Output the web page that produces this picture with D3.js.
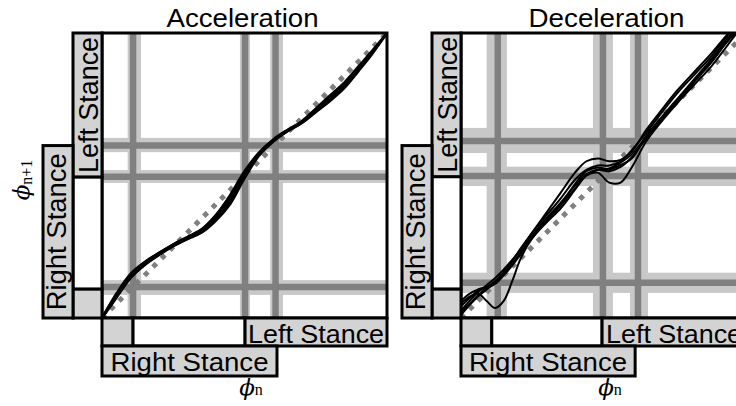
<!DOCTYPE html>
<html><head><meta charset="utf-8">
<script src="https://cdn.jsdelivr.net/npm/d3@7"></script>
<style>html,body{margin:0;padding:0;background:#fff;overflow:hidden}</style>
</head><body>
<svg id="chart" width="736" height="406"></svg>
<script>
// ---------- data ----------
const panelTitles = ["Acceleration", "Deceleration"];
const stanceNames = ["Right Stance", "Left Stance"];
const phiSymbol = "\u03D5";
const xAxisSub = "n";
const yAxisSub = "n+1";

// Acceleration panel: phase map phi_n -> phi_n+1
const accelPhase = [0,0.05,0.1,0.15,0.2,0.25,0.3,0.35,0.4,0.45,0.5,0.55,0.6,0.65,0.7,0.75,0.8,0.85,0.9,0.95,1];
const accelTrial1 = [0,0.078,0.148,0.192,0.226,0.256,0.281,0.306,0.352,0.415,0.502,0.574,0.622,0.657,0.686,0.728,0.770,0.816,0.875,0.935,1];
const accelTrial2 = [0,0.085,0.155,0.197,0.229,0.258,0.283,0.310,0.360,0.428,0.510,0.578,0.624,0.658,0.688,0.732,0.776,0.822,0.880,0.938,1];
const accelTrial3 = [0,0.072,0.142,0.187,0.222,0.253,0.278,0.302,0.345,0.405,0.495,0.570,0.619,0.655,0.684,0.724,0.764,0.810,0.870,0.932,1];
const accelTrial4 = [0,0.080,0.150,0.194,0.228,0.259,0.285,0.312,0.362,0.432,0.515,0.580,0.626,0.660,0.690,0.735,0.781,0.826,0.883,0.940,1];
const accelTrial5 = [0,0.070,0.140,0.186,0.221,0.252,0.277,0.300,0.342,0.400,0.490,0.568,0.618,0.654,0.683,0.722,0.761,0.806,0.866,0.929,1];
// gait events (mean) and their spread, along phi_n (x) and phi_n+1 (y)
const accelEventX = [0.109, 0.502, 0.609];
const accelEventY = [0.109, 0.496, 0.605];
const accelBandX = [[0.090,0.137],[0.484,0.519],[0.590,0.635]];
const accelBandY = [[0.081,0.133],[0.474,0.519],[0.582,0.632]];
// stance boundaries: [left stance ends, left stance starts, right stance ends]
const accelStanceX = [0.109, 0.502, 0.614];
const accelStanceY = [0.102, 0.495, 0.605];

// Deceleration panel
const decelPhase = [0,0.03,0.06,0.09,0.12,0.15,0.18,0.21,0.25,0.3,0.35,0.4,0.44,0.48,0.52,0.56,0.6,0.65,0.7,0.76,0.82,0.88,0.93,0.96,1];
const decelTrial1 = [0.04,0.07,0.095,0.105,0.12,0.15,0.185,0.225,0.285,0.345,0.40,0.47,0.515,0.528,0.522,0.537,0.56,0.64,0.70,0.77,0.84,0.91,0.975,1.01,1.06];
const decelTrial2 = [0.05,0.075,0.085,0.06,0.035,0.06,0.13,0.21,0.28,0.335,0.385,0.45,0.50,0.52,0.525,0.545,0.575,0.635,0.69,0.76,0.83,0.90,0.965,1.0,1.05];
const decelTrial3 = [0.02,0.05,0.08,0.105,0.13,0.16,0.20,0.24,0.30,0.37,0.44,0.51,0.55,0.56,0.55,0.555,0.585,0.66,0.725,0.80,0.865,0.93,0.99,1.02,1.07];
const decelTrial4 = [0.01,0.045,0.075,0.10,0.125,0.155,0.19,0.23,0.28,0.34,0.395,0.455,0.50,0.51,0.475,0.475,0.53,0.62,0.685,0.755,0.82,0.885,0.95,0.99,1.04];
const decelTrial5 = [0.06,0.085,0.10,0.11,0.125,0.16,0.20,0.245,0.30,0.36,0.42,0.485,0.52,0.535,0.535,0.55,0.59,0.65,0.715,0.79,0.855,0.92,0.985,1.02,1.07];
const decelTrial6 = [0.025,0.06,0.09,0.115,0.14,0.17,0.205,0.24,0.29,0.35,0.405,0.465,0.505,0.52,0.515,0.53,0.565,0.63,0.69,0.765,0.835,0.90,0.965,1.0,1.05];
const decelEventX = [0.129, 0.498, 0.621];
const decelEventY = [0.124, 0.498, 0.621];
const decelBandX = [[0.090,0.161],[0.463,0.533],[0.593,0.656]];
const decelBandY = [[0.088,0.159],[0.463,0.531],[0.579,0.667]];
const decelStanceX = [0.108, 0.495, 0.611];
const decelStanceY = [0.102, 0.496, 0.605];

// ---------- drawing ----------
const svg = d3.select("#chart");
const SIZE = 285, TOP = 33, BOT = TOP + SIZE;
const C = {dark:"#808080", band:"#c8c8c8", bar:"#d3d3d3", ink:"#000"};
const sans = "'Liberation Sans', Arial, Helvetica, sans-serif";
const serif = "'Liberation Serif', 'DejaVu Serif', 'Times New Roman', serif";
const phiFont = "'DejaVu Serif', 'Liberation Serif', serif";

const panels = [
  {title: panelTitles[0], x0: 102, phase: accelPhase,
   trials: [accelTrial1, accelTrial2, accelTrial3, accelTrial4, accelTrial5], lw: 2.4,
   evX: accelEventX, evY: accelEventY, bX: accelBandX, bY: accelBandY, sX: accelStanceX, sY: accelStanceY, ylabel: true},
  {title: panelTitles[1], x0: 461, phase: decelPhase,
   trials: [decelTrial1, decelTrial2, decelTrial3, decelTrial4, decelTrial5, decelTrial6], lw: 2,
   evX: decelEventX, evY: decelEventY, bX: decelBandX, bY: decelBandY, sX: decelStanceX, sY: decelStanceY, ylabel: false}
];

panels.forEach((p, i) => {
  const x = d3.scaleLinear().domain([0, 1]).range([p.x0, p.x0 + SIZE]);
  const y = d3.scaleLinear().domain([0, 1]).range([BOT, TOP]);
  const g = svg.append("g");
  const clipId = "clip" + i;
  g.append("clipPath").attr("id", clipId).append("rect")
    .attr("x", x(0)).attr("y", y(1)).attr("width", x(1) - x(0)).attr("height", y(0) - y(1));
  const plot = g.append("g").attr("clip-path", `url(#${clipId})`);

  // light bands
  p.bX.forEach(b => plot.append("rect").attr("x", x(b[0])).attr("y", y(1))
    .attr("width", x(b[1]) - x(b[0])).attr("height", y(0) - y(1)).attr("fill", C.band));
  p.bY.forEach(b => plot.append("rect").attr("x", x(0)).attr("y", y(b[1]))
    .attr("width", x(1) - x(0)).attr("height", y(b[0]) - y(b[1])).attr("fill", C.band));
  // dark event lines
  p.evX.forEach(e => plot.append("line").attr("x1", x(e)).attr("x2", x(e)).attr("y1", y(0)).attr("y2", y(1))
    .attr("stroke", C.dark).attr("stroke-width", 6.5));
  p.evY.forEach(e => plot.append("line").attr("y1", y(e)).attr("y2", y(e)).attr("x1", x(0)).attr("x2", x(1))
    .attr("stroke", C.dark).attr("stroke-width", 6.5));
  // identity diagonal
  plot.append("line").attr("x1", x(0)).attr("y1", y(0)).attr("x2", x(1)).attr("y2", y(1))
    .attr("stroke", C.dark).attr("stroke-width", 5).attr("stroke-dasharray", "5 7");
  // trials
  const line = d3.line().x(d => x(d[0])).y(d => y(d[1])).curve(d3.curveCatmullRom.alpha(0.5));
  p.trials.forEach(t => plot.append("path").attr("d", line(p.phase.map((v, k) => [v, t[k]])))
    .attr("fill", "none").attr("stroke", C.ink).attr("stroke-width", p.lw).attr("stroke-linejoin", "round"));
  // frame
  g.append("rect").attr("x", x(0)).attr("y", y(1)).attr("width", x(1) - x(0)).attr("height", y(0) - y(1))
    .attr("fill", "none").attr("stroke", C.ink).attr("stroke-width", 3);

  // stance bars along phi_n (bottom)
  const r1 = [BOT, BOT + 28], r2 = [BOT + 28, BOT + 58];
  const cell = (x1, x2, y1, y2, fill) => g.append("rect").attr("x", x1).attr("y", y1)
    .attr("width", x2 - x1).attr("height", y2 - y1).attr("fill", fill)
    .attr("stroke", C.ink).attr("stroke-width", 3);
  cell(x(0), x(p.sX[0]), r1[0], r1[1], C.bar);
  cell(x(p.sX[0]), x(p.sX[1]), r1[0], r1[1], "#fff");
  cell(x(p.sX[1]), x(1), r1[0], r1[1], C.bar);
  cell(x(0), x(p.sX[2]), r2[0], r2[1], C.bar);
  g.append("text").attr("x", x((p.sX[1] + 1) / 2)).attr("y", r1[0] + 25).attr("text-anchor", "middle")
    .attr("font-family", sans).attr("font-size", 26).attr("textLength", 136).attr("lengthAdjust", "spacingAndGlyphs")
    .text(stanceNames[1]);
  g.append("text").attr("x", x(p.sX[2] / 2)).attr("y", r2[0] + 25).attr("text-anchor", "middle")
    .attr("font-family", sans).attr("font-size", 25).attr("textLength", 158).attr("lengthAdjust", "spacingAndGlyphs")
    .text(stanceNames[0]);

  // stance bars along phi_n+1 (left)
  const c1 = [p.x0 - 29, p.x0], c2 = [p.x0 - 59, p.x0 - 29];
  cell(c1[0], c1[1], y(p.sY[0]), y(0), C.bar);
  cell(c1[0], c1[1], y(p.sY[1]), y(p.sY[0]), "#fff");
  cell(c1[0], c1[1], y(1), y(p.sY[1]), C.bar);
  cell(c2[0], c2[1], y(p.sY[2]), y(0), C.bar);
  g.append("text").attr("transform", `translate(${p.x0 - 4.5},${y((p.sY[1] + 1) / 2)}) rotate(-90)`)
    .attr("text-anchor", "middle").attr("font-family", sans).attr("font-size", 27)
    .attr("textLength", 136).attr("lengthAdjust", "spacingAndGlyphs").text(stanceNames[1]);
  g.append("text").attr("transform", `translate(${p.x0 - 36.5},${y(p.sY[2] / 2)}) rotate(-90)`)
    .attr("text-anchor", "middle").attr("font-family", sans).attr("font-size", 27)
    .attr("textLength", 157).attr("lengthAdjust", "spacingAndGlyphs").text(stanceNames[0]);

  // title
  g.append("text").attr("x", x(0.5) + (i === 0 ? -2 : 3)).attr("y", 27).attr("text-anchor", "middle")
    .attr("font-family", sans).attr("font-size", 26).attr("textLength", i === 0 ? 152 : 156)
    .attr("lengthAdjust", "spacingAndGlyphs").text(p.title);

  // phi_n label
  const tx = g.append("text").attr("x", x(0) + 149).attr("y", 395).attr("text-anchor", "middle");
  tx.append("tspan").attr("font-family", phiFont).attr("font-size", 23).attr("font-style", "italic").text(phiSymbol);
  tx.append("tspan").attr("font-family", serif).attr("font-size", 16).attr("dy", 0).text(xAxisSub);

  if (p.ylabel) {
    const ty = g.append("text").attr("transform", `translate(29,180) rotate(-90)`)
      .attr("text-anchor", "middle");
    ty.append("tspan").attr("font-family", phiFont).attr("font-size", 23).attr("font-style", "italic").text(phiSymbol);
    ty.append("tspan").attr("font-family", serif).attr("font-size", 16).attr("dy", 3).text(yAxisSub);
  }
});
</script>
</body></html>
